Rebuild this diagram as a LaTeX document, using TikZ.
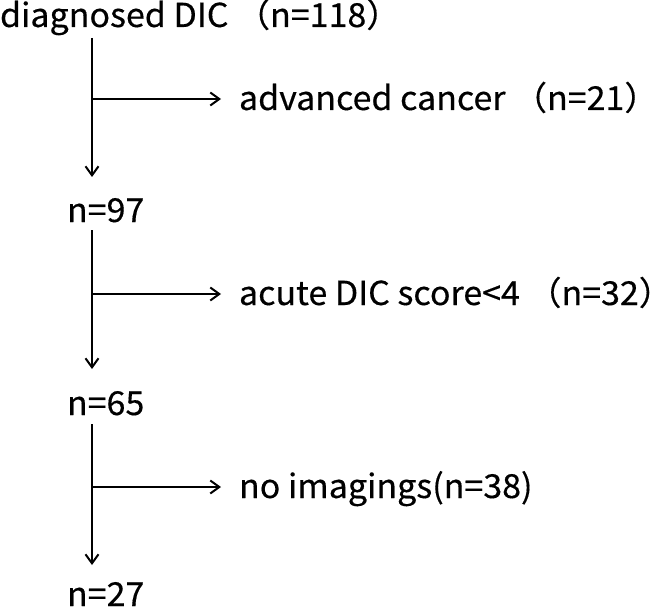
\documentclass[tikz,border=0pt]{standalone}
\usepackage{fontspec}
\setmainfont[FakeStretch=1.03,FakeBold=0.4]{Noto Sans CJK JP}
\usetikzlibrary{arrows.meta}
\tikzset{
    count/.style={
           anchor=base west,
           inner sep=0pt,
           text height=24bp,
           text depth=7bp,
           font=\fontsize{33bp}{40bp}\selectfont,
           },
    excl/.style={count},
}

\begin{document}
\begin{tikzpicture}[x=1bp,y=-1bp,line width=2bp,-{Straight Barb[length=9bp,width=13bp]}]
        \useasboundingbox (0,0) rectangle (653,607);
        \node[count] (N118) at (-1,27) {diagnosed DIC （n=118）};
        \node[count] (N97) at (66,222) {n=97};
        \node[count] (N65) at (66,415) {n=65};
        \node[count] (N27) at (66,606) {n=27};
        \node[excl] (X21) at (238,110) {advanced cancer （n=21）};
        \node[excl] (X32) at (238,305) {acute DIC score<4 （n=32）};
        \node[excl] (X38) at (238,498) {no imagings(n=38)};
        % branch points on the trunk
        \coordinate (J1) at (92,99);
        \coordinate (J2) at (92,294);
        \coordinate (J3) at (92,487);

        \draw[shorten <=3bp, shorten >=20bp] (N118.south -| J1) -- (N97.north -| J1);
        \draw[shorten >=21bp] (N97.south -| J2) -- (N65.north -| J2);
        \draw[shorten <=1bp, shorten >=16bp] (N65.south -| J3) -- (N27.north -| J3);
        \draw[shorten >=17bp] (J1) -- (J1 -| X21.west);
        \draw[shorten >=17bp] (J2) -- (J2 -| X32.west);
        \draw[shorten >=17bp] (J3) -- (J3 -| X38.west);
    \end{tikzpicture}
\end{document}
